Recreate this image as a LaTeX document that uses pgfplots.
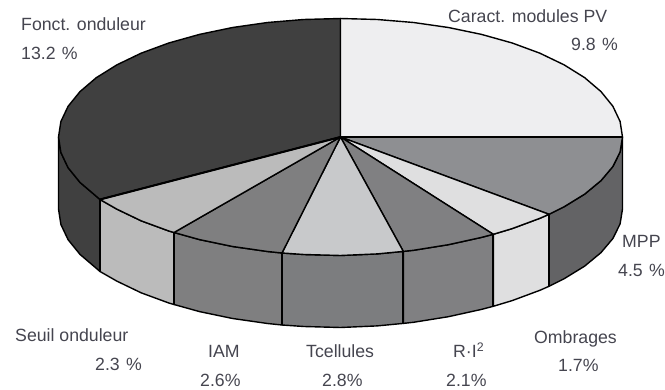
\documentclass[border=0pt]{standalone}
\usepackage{fontspec}
\setmainfont{Liberation Sans}
\usepackage{pgfplots}
\pgfplotsset{compat=1.18}
\definecolor{txt}{HTML}{45454F}
\tikzset{lab/.style={anchor=base west, inner sep=0pt, text=txt, font=\fontsize{17.7}{20}\selectfont}}
\newcommand{\pc}{\hspace{0.36em}\%}
\begin{document}
\begin{tikzpicture}
\begin{axis}[
  scale only axis, width=665pt, height=390pt,
  xmin=0, xmax=665, ymin=0, ymax=390, y dir=reverse,
  hide axis, clip=false,
  every axis plot/.append style={line join=round, line width=1.4pt, draw=black},
]
% side walls
\addplot[fill={rgb,255:red,64;green,64;blue,64}] coordinates {(58.5,137)(60.9,152.5)(68.1,167.7)(80,182.4)(96.3,196.3)(100,199.5)(100,271.5)(96.3,268.3)(80,254.4)(68.1,239.7)(60.9,224.5)(58.5,209)} --cycle;
\addplot[fill={rgb,255:red,187;green,187;blue,187}] coordinates {(100,199.5)(116.8,209.1)(141.1,220.8)(168.8,231)(174,232.5)(174,304.5)(168.8,303)(141.1,292.8)(116.8,281.1)(100,271.5)} --cycle;
\addplot[fill={rgb,255:red,127;green,127;blue,128}] coordinates {(174,232.5)(199.5,239.6)(232.6,246.5)(267.5,251.5)(282,253)(282,325)(267.5,323.5)(232.6,318.5)(199.5,311.6)(174,304.5)} --cycle;
\addplot[fill={rgb,255:red,124;green,125;blue,127}] coordinates {(282,253)(303.7,254.5)(340.5,255.5)(377.3,253.9)(403.3,251.4)(403.3,323.4)(377.3,325.9)(340.5,327.5)(303.7,326.5)(282,325)} --cycle;
\addplot[fill={rgb,255:red,128;green,128;blue,130}] coordinates {(403.3,251.4)(413.5,250.3)(448.4,244.7)(481.5,237.4)(493.3,234.3)(493.3,306.3)(481.5,309.4)(448.4,316.7)(413.5,322.3)(403.3,323.4)} --cycle;
\addplot[fill={rgb,255:red,223;green,223;blue,224}] coordinates {(493.3,234.3)(512.2,228.6)(539.9,218.3)(549,214.3)(549,286.3)(539.9,290.3)(512.2,300.6)(493.3,306.3)} --cycle;
\addplot[fill={rgb,255:red,99;green,99;blue,101}] coordinates {(549,214.3)(564.2,206.7)(584.7,194.1)(601,180.6)(612.9,166.5)(620.1,151.9)(622.5,137)(622.5,209)(620.1,223.9)(612.9,238.5)(601,252.6)(584.7,266.1)(564.2,278.7)(549,286.3)} --cycle;
% heavy wall edges
\addplot[line width=2pt] coordinates {(100,199.5)(100,271.5)};
\addplot[line width=2pt] coordinates {(174,232.5)(174,304.5)};
\addplot[line width=2pt] coordinates {(282,253)(282,325)};
\addplot[line width=2pt] coordinates {(403.3,251.4)(403.3,323.4)};
\addplot[line width=2pt] coordinates {(493.3,234.3)(493.3,306.3)};
\addplot[line width=2pt] coordinates {(549,214.3)(549,286.3)};
% top slices
\addplot[fill={rgb,255:red,64;green,64;blue,64}] coordinates {(340.5,137)(100,199.5)(96.3,196.3)(80,182.4)(68.1,167.7)(60.9,152.5)(58.5,137)(60.9,121.5)(68.1,106.3)(80,91.6)(96.3,77.7)(116.8,64.9)(141.1,53.2)(168.8,43)(199.5,34.4)(232.6,27.5)(267.5,22.5)(303.7,19.5)(340.5,18.5)} --cycle;
\addplot[fill={rgb,255:red,238;green,238;blue,240}] coordinates {(340.5,137)(340.5,18.5)(377.3,19.5)(413.5,22.5)(448.4,27.5)(481.5,34.4)(512.2,43)(539.9,53.2)(564.2,64.9)(584.7,77.7)(601,91.6)(612.9,106.3)(620.1,121.5)(622.5,137)} --cycle;
\addplot[fill={rgb,255:red,142;green,143;blue,146}] coordinates {(340.5,137)(622.5,137)(620.1,151.9)(612.9,166.5)(601,180.6)(584.7,194.1)(564.2,206.7)(549,214.3)} --cycle;
\addplot[fill={rgb,255:red,223;green,223;blue,224}] coordinates {(340.5,137)(549,214.3)(539.9,218.3)(512.2,228.6)(493.3,234.3)} --cycle;
\addplot[fill={rgb,255:red,128;green,128;blue,130}] coordinates {(340.5,137)(493.3,234.3)(481.5,237.4)(448.4,244.7)(413.5,250.3)(403.3,251.4)} --cycle;
\addplot[fill={rgb,255:red,200;green,201;blue,203}] coordinates {(340.5,137)(403.3,251.4)(377.3,253.9)(340.5,255.5)(303.7,254.5)(282,253)} --cycle;
\addplot[fill={rgb,255:red,127;green,127;blue,128}] coordinates {(340.5,137)(282,253)(267.5,251.5)(232.6,246.5)(199.5,239.6)(174,232.5)} --cycle;
\addplot[fill={rgb,255:red,187;green,187;blue,187}] coordinates {(340.5,137)(174,232.5)(168.8,231)(141.1,220.8)(116.8,209.1)(100,199.5)} --cycle;
% heavy radial edges
\addplot[line width=2pt] coordinates {(340.5,137)(622.5,137)};
\addplot[line width=2pt] coordinates {(340.5,137)(100,199.5)};
% labels
\node[lab] at (axis cs:21,31) {Fonct. onduleur};
\node[lab] at (axis cs:21,59.5) {13.2\pc};
\node[lab] at (axis cs:448,23) {Caract. modules PV};
\node[lab] at (axis cs:571,51) {9.8\pc};
\node[lab] at (axis cs:622,248) {MPP};
\node[lab] at (axis cs:618,277) {4.5\pc};
\node[lab] at (axis cs:534,344) {Ombrages};
\node[lab] at (axis cs:558,372) {1.7\%};
\node[lab] at (axis cs:453,358) {R·I\textsuperscript{2}};
\node[lab] at (axis cs:446,387) {2.1\%};
\node[lab] at (axis cs:322,358) [xshift=-16pt] {Tcellules};
\node[lab] at (axis cs:322,387) {2.8\%};
\node[lab] at (axis cs:208,358) {IAM};
\node[lab] at (axis cs:200,387) {2.6\%};
\node[lab] at (axis cs:15,342) {Seuil onduleur};
\node[lab] at (axis cs:95,371) {2.3\pc};
\end{axis}
\path[use as bounding box] (0,0) rectangle (665pt,390pt);
\end{tikzpicture}
\end{document}
